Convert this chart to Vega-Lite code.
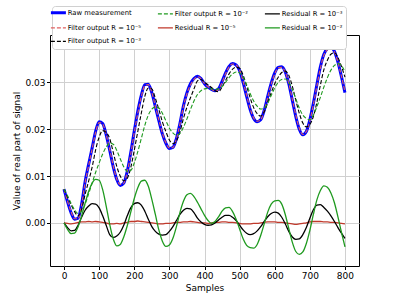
{
  "$schema": "https://vega.github.io/schema/vega-lite/v6.json",
  "width": 309,
  "height": 231,
  "autosize": {"type": "none"},
  "padding": {"left": 50, "top": 35, "right": 40, "bottom": 33},
  "background": "white",
  "config": {
    "font": "DejaVu Sans",
    "view": {"stroke": "#000000", "strokeWidth": 1},
    "axis": {
      "domain": false,
      "grid": true,
      "gridColor": "#d0d0d0",
      "gridWidth": 1,
      "tickColor": "#000000",
      "tickSize": 3.5,
      "labelFontSize": 9,
      "labelColor": "#000000",
      "labelPadding": 1.5,
      "titleFontSize": 9,
      "titleFontWeight": "normal",
      "titleColor": "#000000"
    }
  },
  "data": {
    "values": [
      {"s":0,"raw":0.0072,"f5":0.0072,"f3":0.0072,"f2":0.0072,"r5":0,"r3":0,"r2":0},
      {"s":10,"raw":0.0045,"f5":0.0046,"f3":0.0055,"f2":0.0058,"r5":-0.0001,"r3":-0.001,"r2":-0.0014},
      {"s":20,"raw":0.0022,"f5":0.0024,"f3":0.0039,"f2":0.0042,"r5":-0.0002,"r3":-0.0017,"r2":-0.0023},
      {"s":30,"raw":0.0008,"f5":0.0009,"f3":0.0024,"f2":0.0028,"r5":-0.0001,"r3":-0.0016,"r2":-0.0022},
      {"s":40,"raw":0.001,"f5":0.0009,"f3":0.0015,"f2":0.002,"r5":0.0001,"r3":-0.0005,"r2":-0.0008},
      {"s":50,"raw":0.004,"f5":0.0038,"f3":0.0028,"f2":0.0025,"r5":0.0002,"r3":0.0012,"r2":0.0015},
      {"s":60,"raw":0.0088,"f5":0.0086,"f3":0.0061,"f2":0.004,"r5":0.0002,"r3":0.0027,"r2":0.0042},
      {"s":70,"raw":0.0125,"f5":0.0122,"f3":0.0089,"f2":0.0062,"r5":0.0003,"r3":0.0036,"r2":0.0067},
      {"s":80,"raw":0.016,"f5":0.0158,"f3":0.0119,"f2":0.0085,"r5":0.0002,"r3":0.0041,"r2":0.0085},
      {"s":90,"raw":0.0196,"f5":0.0193,"f3":0.0156,"f2":0.0108,"r5":0.0003,"r3":0.004,"r2":0.0093},
      {"s":100,"raw":0.0216,"f5":0.0214,"f3":0.0183,"f2":0.0128,"r5":0.0002,"r3":0.0032,"r2":0.0091},
      {"s":110,"raw":0.0212,"f5":0.0211,"f3":0.0197,"f2":0.0147,"r5":0.0001,"r3":0.0015,"r2":0.0071},
      {"s":120,"raw":0.0188,"f5":0.0188,"f3":0.0193,"f2":0.0162,"r5":0,"r3":-0.0005,"r2":0.0036},
      {"s":130,"raw":0.0155,"f5":0.0157,"f3":0.018,"f2":0.017,"r5":-0.0002,"r3":-0.0025,"r2":-0.0003},
      {"s":140,"raw":0.012,"f5":0.0122,"f3":0.0151,"f2":0.0168,"r5":-0.0002,"r3":-0.0031,"r2":-0.0034},
      {"s":150,"raw":0.0093,"f5":0.0094,"f3":0.0121,"f2":0.0155,"r5":-0.0001,"r3":-0.0028,"r2":-0.0049},
      {"s":160,"raw":0.008,"f5":0.0082,"f3":0.01,"f2":0.0137,"r5":-0.0002,"r3":-0.002,"r2":-0.0046},
      {"s":170,"raw":0.0085,"f5":0.0085,"f3":0.009,"f2":0.012,"r5":0,"r3":-0.0005,"r2":-0.003},
      {"s":180,"raw":0.011,"f5":0.0109,"f3":0.0095,"f2":0.011,"r5":0.0001,"r3":0.0015,"r2":-0.0006},
      {"s":190,"raw":0.015,"f5":0.0147,"f3":0.0118,"f2":0.0112,"r5":0.0003,"r3":0.0032,"r2":0.0023},
      {"s":200,"raw":0.0196,"f5":0.0193,"f3":0.0155,"f2":0.0128,"r5":0.0003,"r3":0.0041,"r2":0.0052},
      {"s":210,"raw":0.0238,"f5":0.0234,"f3":0.0195,"f2":0.0152,"r5":0.0004,"r3":0.0043,"r2":0.0075},
      {"s":220,"raw":0.0272,"f5":0.0269,"f3":0.0234,"f2":0.018,"r5":0.0003,"r3":0.0038,"r2":0.0089},
      {"s":230,"raw":0.0295,"f5":0.0293,"f3":0.027,"f2":0.0208,"r5":0.0002,"r3":0.0025,"r2":0.0091},
      {"s":240,"raw":0.0296,"f5":0.0295,"f3":0.0288,"f2":0.023,"r5":0.0001,"r3":0.0008,"r2":0.0078},
      {"s":250,"raw":0.0278,"f5":0.0278,"f3":0.0286,"f2":0.0243,"r5":0,"r3":-0.0008,"r2":0.005},
      {"s":260,"raw":0.0248,"f5":0.0249,"f3":0.0266,"f2":0.0247,"r5":-0.0001,"r3":-0.0018,"r2":0.0018},
      {"s":270,"raw":0.0218,"f5":0.022,"f3":0.0242,"f2":0.0245,"r5":-0.0002,"r3":-0.0024,"r2":-0.0015},
      {"s":280,"raw":0.019,"f5":0.0192,"f3":0.0216,"f2":0.0234,"r5":-0.0002,"r3":-0.0026,"r2":-0.0039},
      {"s":290,"raw":0.017,"f5":0.0171,"f3":0.0195,"f2":0.0218,"r5":-0.0001,"r3":-0.0025,"r2":-0.005},
      {"s":300,"raw":0.0159,"f5":0.016,"f3":0.0177,"f2":0.0202,"r5":-0.0001,"r3":-0.0018,"r2":-0.0047},
      {"s":310,"raw":0.0161,"f5":0.0161,"f3":0.0169,"f2":0.0192,"r5":0,"r3":-0.0008,"r2":-0.0033},
      {"s":320,"raw":0.018,"f5":0.0179,"f3":0.0175,"f2":0.0187,"r5":0.0001,"r3":0.0005,"r2":-0.0008},
      {"s":330,"raw":0.0212,"f5":0.0211,"f3":0.0194,"f2":0.0191,"r5":0.0001,"r3":0.0018,"r2":0.0022},
      {"s":340,"raw":0.025,"f5":0.0248,"f3":0.0223,"f2":0.0204,"r5":0.0002,"r3":0.0027,"r2":0.0046},
      {"s":350,"raw":0.0278,"f5":0.0276,"f3":0.0247,"f2":0.0222,"r5":0.0002,"r3":0.0031,"r2":0.006},
      {"s":360,"raw":0.0297,"f5":0.0294,"f3":0.0267,"f2":0.0242,"r5":0.0003,"r3":0.003,"r2":0.0063},
      {"s":370,"raw":0.0308,"f5":0.0306,"f3":0.0286,"f2":0.026,"r5":0.0002,"r3":0.0022,"r2":0.0056},
      {"s":380,"raw":0.0313,"f5":0.0312,"f3":0.0303,"f2":0.0274,"r5":0.0001,"r3":0.001,"r2":0.0044},
      {"s":390,"raw":0.0308,"f5":0.0308,"f3":0.0306,"f2":0.0282,"r5":0,"r3":0.0002,"r2":0.003},
      {"s":400,"raw":0.0297,"f5":0.0297,"f3":0.03,"f2":0.0286,"r5":0,"r3":-0.0003,"r2":0.0016},
      {"s":410,"raw":0.029,"f5":0.0291,"f3":0.0295,"f2":0.0287,"r5":-0.0001,"r3":-0.0005,"r2":0.0005},
      {"s":420,"raw":0.0285,"f5":0.0285,"f3":0.0289,"f2":0.0286,"r5":0,"r3":-0.0004,"r2":-0.0001},
      {"s":430,"raw":0.0282,"f5":0.0281,"f3":0.0282,"f2":0.0285,"r5":0.0001,"r3":0,"r2":0.0003},
      {"s":440,"raw":0.0286,"f5":0.0285,"f3":0.028,"f2":0.0286,"r5":0.0001,"r3":0.0006,"r2":0.0013},
      {"s":450,"raw":0.0302,"f5":0.03,"f3":0.029,"f2":0.0291,"r5":0.0002,"r3":0.0012,"r2":0.0025},
      {"s":460,"raw":0.032,"f5":0.0318,"f3":0.0304,"f2":0.03,"r5":0.0002,"r3":0.0016,"r2":0.0032},
      {"s":470,"raw":0.0334,"f5":0.0333,"f3":0.0318,"f2":0.031,"r5":0.0001,"r3":0.0016,"r2":0.0033},
      {"s":480,"raw":0.034,"f5":0.0339,"f3":0.0328,"f2":0.0318,"r5":0.0001,"r3":0.0012,"r2":0.0024},
      {"s":490,"raw":0.0337,"f5":0.0337,"f3":0.0332,"f2":0.0322,"r5":0,"r3":0.0005,"r2":0.0008},
      {"s":500,"raw":0.0325,"f5":0.0326,"f3":0.033,"f2":0.032,"r5":-0.0001,"r3":-0.0005,"r2":-0.0013},
      {"s":510,"raw":0.03,"f5":0.0302,"f3":0.0315,"f2":0.0311,"r5":-0.0002,"r3":-0.0015,"r2":-0.0034},
      {"s":520,"raw":0.027,"f5":0.0272,"f3":0.0292,"f2":0.0295,"r5":-0.0002,"r3":-0.0022,"r2":-0.0048},
      {"s":530,"raw":0.0242,"f5":0.0244,"f3":0.0267,"f2":0.0276,"r5":-0.0002,"r3":-0.0025,"r2":-0.0053},
      {"s":540,"raw":0.0223,"f5":0.0224,"f3":0.0246,"f2":0.026,"r5":-0.0001,"r3":-0.0023,"r2":-0.0054},
      {"s":550,"raw":0.0216,"f5":0.0217,"f3":0.0233,"f2":0.0249,"r5":-0.0001,"r3":-0.0017,"r2":-0.0046},
      {"s":560,"raw":0.022,"f5":0.022,"f3":0.0228,"f2":0.0243,"r5":0,"r3":-0.0008,"r2":-0.0027},
      {"s":570,"raw":0.024,"f5":0.0239,"f3":0.0237,"f2":0.0245,"r5":0.0001,"r3":0.0003,"r2":-0.0002},
      {"s":580,"raw":0.027,"f5":0.0268,"f3":0.0257,"f2":0.0255,"r5":0.0002,"r3":0.0013,"r2":0.0023},
      {"s":590,"raw":0.0298,"f5":0.0296,"f3":0.0278,"f2":0.0272,"r5":0.0002,"r3":0.002,"r2":0.004},
      {"s":600,"raw":0.032,"f5":0.0318,"f3":0.0297,"f2":0.0288,"r5":0.0002,"r3":0.0023,"r2":0.0047},
      {"s":610,"raw":0.0332,"f5":0.0331,"f3":0.0311,"f2":0.03,"r5":0.0001,"r3":0.0021,"r2":0.0048},
      {"s":620,"raw":0.0333,"f5":0.0332,"f3":0.0321,"f2":0.0306,"r5":0.0001,"r3":0.0012,"r2":0.004},
      {"s":630,"raw":0.0322,"f5":0.0322,"f3":0.0324,"f2":0.0307,"r5":0,"r3":-0.0002,"r2":0.0018},
      {"s":640,"raw":0.0297,"f5":0.0298,"f3":0.0315,"f2":0.03,"r5":-0.0001,"r3":-0.0018,"r2":-0.0012},
      {"s":650,"raw":0.0262,"f5":0.0264,"f3":0.0292,"f2":0.0285,"r5":-0.0002,"r3":-0.003,"r2":-0.0041},
      {"s":660,"raw":0.0227,"f5":0.023,"f3":0.0262,"f2":0.0265,"r5":-0.0003,"r3":-0.0035,"r2":-0.0061},
      {"s":670,"raw":0.02,"f5":0.0202,"f3":0.0234,"f2":0.0245,"r5":-0.0002,"r3":-0.0034,"r2":-0.0067},
      {"s":680,"raw":0.0188,"f5":0.0189,"f3":0.0213,"f2":0.023,"r5":-0.0001,"r3":-0.0025,"r2":-0.0062},
      {"s":690,"raw":0.0195,"f5":0.0195,"f3":0.0205,"f2":0.0223,"r5":0,"r3":-0.001,"r2":-0.0044},
      {"s":700,"raw":0.022,"f5":0.0218,"f3":0.021,"f2":0.022,"r5":0.0002,"r3":0.001,"r2":-0.0016},
      {"s":710,"raw":0.0255,"f5":0.0252,"f3":0.0227,"f2":0.023,"r5":0.0003,"r3":0.0028,"r2":0.0018},
      {"s":720,"raw":0.0295,"f5":0.0292,"f3":0.0257,"f2":0.0248,"r5":0.0003,"r3":0.0038,"r2":0.0049},
      {"s":730,"raw":0.0333,"f5":0.033,"f3":0.0294,"f2":0.0268,"r5":0.0003,"r3":0.0039,"r2":0.0069},
      {"s":740,"raw":0.036,"f5":0.0358,"f3":0.0327,"f2":0.029,"r5":0.0002,"r3":0.0033,"r2":0.0079},
      {"s":750,"raw":0.0372,"f5":0.037,"f3":0.0347,"f2":0.031,"r5":0.0002,"r3":0.0025,"r2":0.0076},
      {"s":760,"raw":0.0375,"f5":0.0374,"f3":0.036,"f2":0.0326,"r5":0.0001,"r3":0.0015,"r2":0.0064},
      {"s":770,"raw":0.0366,"f5":0.0365,"f3":0.0363,"f2":0.0336,"r5":0.0001,"r3":0.0003,"r2":0.0043},
      {"s":780,"raw":0.0343,"f5":0.0343,"f3":0.0353,"f2":0.034,"r5":0,"r3":-0.001,"r2":0.0013},
      {"s":790,"raw":0.0312,"f5":0.0313,"f3":0.0334,"f2":0.0336,"r5":-0.0001,"r3":-0.0022,"r2":-0.002},
      {"s":800,"raw":0.0278,"f5":0.028,"f3":0.0311,"f2":0.0322,"r5":-0.0002,"r3":-0.0033,"r2":-0.0051}
    ]
  },
  "transform": [
    {"fold": ["raw", "f5", "f3", "f2", "r5", "r3", "r2"], "as": ["series", "v"]}
  ],
  "encoding": {
    "x": {
      "field": "s", "type": "quantitative", "title": "Samples",
      "scale": {"domain": [-40, 840], "nice": false, "zero": false},
      "axis": {"values": [0, 100, 200, 300, 400, 500, 600, 700, 800], "titlePadding": 3.5}
    },
    "y": {
      "field": "v", "type": "quantitative", "title": "Value of real part of signal",
      "scale": {"domain": [-0.0092, 0.0401], "nice": false, "zero": false},
      "axis": {"values": [0, 0.01, 0.02, 0.03], "format": ".2f", "titlePadding": 3}
    },
    "color": {
      "field": "series", "type": "nominal",
      "scale": {
        "domain": ["raw", "f5", "r2", "f2", "r5", "f3", "r3"],
        "range": ["#0000ff", "#e06060", "#1f9a1f", "#1f9a1f", "#c0392b", "#000000", "#000000"]
      },
      "legend": {
        "title": null,
        "orient": "none",
        "legendX": 2,
        "legendY": -29,
        "columns": 3,
        "columnPadding": 13,
        "rowPadding": 5.5,
        "padding": 3,
        "fillColor": "white",
        "strokeColor": "#d0d0d0",
        "cornerRadius": 3,
        "symbolType": "stroke",
        "symbolSize": 225,
        "labelFontSize": 6.8,
        "labelColor": "#000000",
        "labelOffset": 6,
        "labelExpr": "{'raw':'Raw measurement','f5':'Filter output R = 10⁻⁵','f3':'Filter output R = 10⁻³','f2':'Filter output R = 10⁻²','r5':'Residual R = 10⁻⁵','r3':'Residual R = 10⁻³','r2':'Residual R = 10⁻²'}[datum.label]",
        "encode": {
          "symbols": {
            "update": {
              "strokeDash": {"signal": "indexof(['f5','f3','f2'], datum.value) >= 0 ? [4, 2] : [1, 0]"},
              "strokeWidth": {"signal": "datum.value === 'raw' ? 3 : 1.3"}
            }
          }
        }
      }
    }
  },
  "layer": [
    {
      "transform": [{"filter": "datum.series === 'raw'"}],
      "mark": {"type": "line", "interpolate": "monotone", "strokeWidth": 3}
    },
    {
      "transform": [{"filter": "indexof(['f5','f3','f2'], datum.series) >= 0"}],
      "mark": {"type": "line", "interpolate": "monotone", "strokeWidth": 1.1, "strokeDash": [4, 2]}
    },
    {
      "transform": [{"filter": "indexof(['r5','r3','r2'], datum.series) >= 0"}],
      "mark": {"type": "line", "interpolate": "monotone", "strokeWidth": 1.3}
    }
  ]
}
